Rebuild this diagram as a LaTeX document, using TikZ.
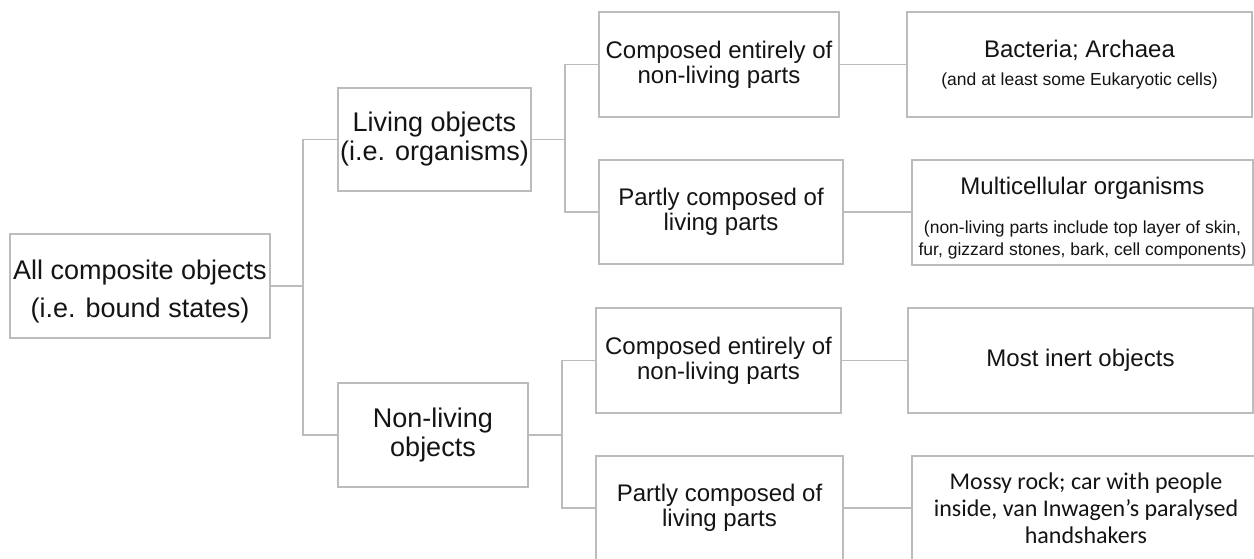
\documentclass[tikz,border=0pt]{standalone}
\usepackage{fontspec}
\setmainfont{Liberation Sans}
\newfontfamily\calibrifont{Carlito}
\usepackage{tikz}
\usetikzlibrary{positioning,calc}
\definecolor{boxgray}{RGB}{188,188,188}
\definecolor{txtgray}{RGB}{20,20,20}

\begin{document}
\begin{tikzpicture}[x=1pt,y=-1pt,
    box/.style={draw=boxgray, line width=1.5pt, fill=white, align=center, inner sep=0pt, text=txtgray},
    wire/.style={draw=boxgray, line width=1.5pt},
    bigtxt/.style={font=\fontsize{27}{29}\selectfont},
    midtxt/.style={font=\fontsize{24}{25}\selectfont},
    smalltxt/.style={font=\fontsize{17.5}{22}\selectfont}]
    \useasboundingbox (0,0) rectangle (1254,559);
    \clip (0,0) rectangle (1254,559);

    % Root and first split
    \node[box, font=\fontsize{27}{38}\selectfont, minimum width=260pt, minimum height=104pt] (root) at (140,286)
        {\rule{0pt}{30pt}All composite objects\\(i.e. bound states)};
    \node[box, bigtxt, minimum width=193pt, minimum height=103pt] (living) at (434.5,139.5)
        {Living objects\\(i.e. organisms)};
    \node[box, bigtxt, minimum width=190pt, minimum height=104pt] (nonliving) at (433,435)
        {Non-living\\objects};

    % Second level
    \node[box, midtxt, minimum width=240pt, minimum height=105pt] (compA) at (719,64.5)
        {Composed entirely of\\non-living parts};
    \node[box, midtxt, minimum width=244pt, minimum height=104pt] (partA) at (721,212)
        {Partly composed of\\living parts};
    \node[box, midtxt, minimum width=245pt, minimum height=105pt] (compB) at (718.5,360.5)
        {Composed entirely of\\non-living parts};
    \node[box, midtxt, minimum width=247pt, minimum height=104pt] (partB) at (719.5,508)
        {Partly composed of\\living parts};

    % Examples
    \node[box, smalltxt, minimum width=345pt, minimum height=105pt] (bact) at (1079.5,64.5)
        {{\fontsize{24}{25}\selectfont Bacteria; Archaea}\\[6pt](and at least some Eukaryotic cells)};
    \node[box, smalltxt, minimum width=341pt, minimum height=105pt] (multi) at (1082.5,212.5)
        {\rule{0pt}{28pt}{\fontsize{24}{25}\selectfont Multicellular organisms}\\[17pt](non-living parts include top layer of skin,\\fur, gizzard stones, bark, cell components)};
    \node[box, midtxt, minimum width=345pt, minimum height=105pt] (inert) at (1080.5,360.5)
        {Most inert objects};
    \node[box, font=\calibrifont\fontsize{24}{27}\selectfont, minimum width=348pt, minimum height=104pt] (mossy) at (1086,508)
        {Mossy rock; car with people\\inside, van Inwagen’s paralysed\\handshakers};

    % Connectors
    \coordinate (j1) at (303,286);
    \coordinate (j2) at (565,139.5);
    \coordinate (j3) at (562,435);
    \draw[wire] (root.east) -- (j1);
    \draw[wire] (living.west) -| (j1) |- (nonliving.west);
    \draw[wire] (living.east) -- (j2);
    \draw[wire] (compA.west) -| (j2) |- (partA.west);
    \draw[wire] (nonliving.east) -- (j3);
    \draw[wire] (compB.west) -| (j3) |- (partB.west);
    \draw[wire] (compA.east) -- (bact.west |- compA.east);
    \draw[wire] (partA.east) -- (multi.west |- partA.east);
    \draw[wire] (compB.east) -- (inert.west |- compB.east);
    \draw[wire] (partB.east) -- (mossy.west |- partB.east);
\end{tikzpicture}
\end{document}
